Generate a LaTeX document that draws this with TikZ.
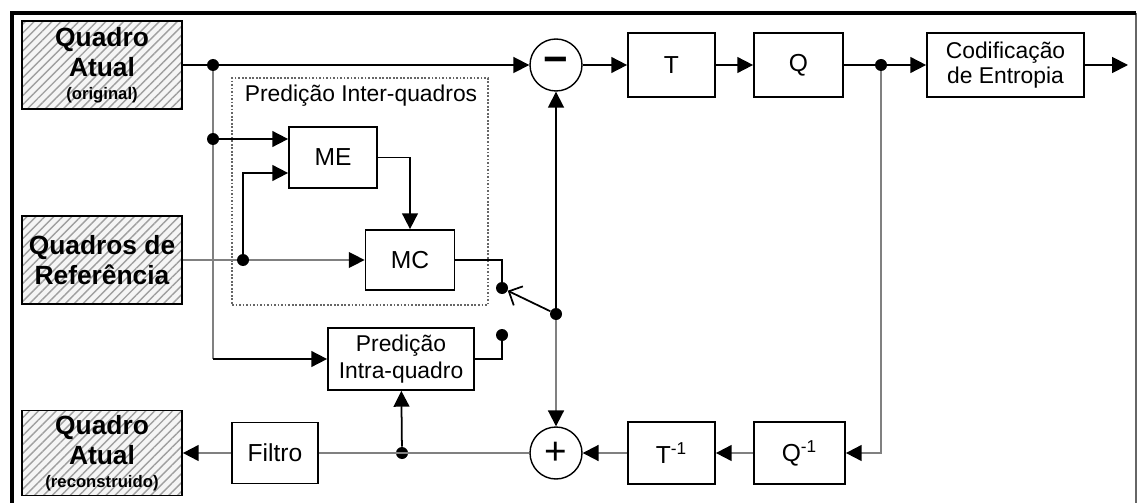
\documentclass[tikz,border=0pt]{standalone}
\usepackage{fontspec}
\setmainfont{Liberation Sans}
\usetikzlibrary{arrows.meta,positioning,patterns.meta}

\begin{document}
\begin{tikzpicture}[
    x=0.02cm, y=-0.02cm,
    font=\fontsize{13}{14}\selectfont,
    box/.style = {rectangle, draw, line width=1pt, minimum width=1.76cm, minimum height=1.24cm, align=center, inner sep=1pt},
    big/.style = {font=\fontsize{14}{15}\selectfont},
    frame/.style = {box, minimum width=3.2cm, minimum height=1.76cm, preaction={fill=gray!8},
        pattern={Lines[angle=45,distance=3.6pt,line width=0.8pt]}, pattern color=gray!75,
        font=\bfseries\fontsize{15}{17}\selectfont},
    sum/.style = {circle, draw, line width=0.8pt, minimum size=1.04cm, inner sep=0pt},
    dot/.style = {circle, fill, inner sep=0pt, minimum size=0.24cm},
    arrow/.style = {-{Triangle[length=9pt,width=9pt]}, line width=1pt},
    feed/.style = {draw=black!50, line width=1.1pt},
    feedarrow/.style = {feed, -{Triangle[length=9pt,width=9pt,color=black]}}
]
\useasboundingbox (0,0) rectangle (1138,503);

% Outer frame
\draw[line width=0.6pt, black!60] (1136,13) -- (1136,510);
\draw[line width=2.4pt] (12,510) -- (12,13) -- (1136,13);

% Input frames
\node[frame] (cur) at (102,65) {Quadro\\Atual\\[-4pt]{\fontsize{9.5}{10}\selectfont(original)}};
\node[frame] (ref) at (102,260) {Quadros de\\Referência};
\node[frame, minimum height=1.7cm] (rec) at (102,453) {Quadro\\Atual\\[-4pt]{\fontsize{9.5}{10}\selectfont(reconstruido)}};

% Forward path
\node[sum] (minus) at (556,65) {\fontsize{24}{24}\selectfont\bfseries −};
\node[box, big, minimum width=1.74cm, minimum height=1.28cm] (T) at (671.5,65) {T};
\node[box, big, minimum width=1.78cm, minimum height=1.28cm] (Q) at (798.5,65) {Q};
\node[box, minimum width=3.14cm, minimum height=1.28cm] (ent) at (1005.5,65) {Codificação\\de Entropia};
\coordinate (out) at (1128,65);

% Inter-frame prediction
\node[draw=black!60, dash pattern=on 1pt off 1pt, line width=0.8pt, minimum width=5.12cm, minimum height=4.54cm] (inter) at (360,191.5) {};
\node (interlbl) at (361,96) {Predição Inter-quadros};
\node[box, big, minimum height=1.22cm] (me) at (333,157.5) {ME};
\node[box, big, minimum width=1.78cm, minimum height=1.2cm] (mc) at (410,260) {MC};

% Intra-frame prediction
\node[box, minimum width=2.92cm, font=\fontsize{13}{15}\selectfont] (intra) at (401,359) {Predição\\Intra-quadro};

% Reconstruction path
\node[sum] (plus) at (556,453) {\fontsize{22}{22}\selectfont +};
\node[box, big, minimum width=1.72cm, minimum height=1.22cm] (filt) at (275,453) {Filtro};
\node[box, big, minimum width=1.74cm] (Tinv) at (671.5,453) {T\textsuperscript{-1}};
\node[box, big, minimum width=1.82cm] (Qinv) at (799.5,453) {Q\textsuperscript{-1}};

% Junctions
\node[dot] (d1) at (213,65) {};
\node[dot] (d2) at (213,139) {};
\node[dot] (d3) at (243,260) {};
\node[dot] (d4) at (881,65) {};
\node[dot] (d5) at (402,453) {};
\node[dot] (sw1) at (502,288) {};
\node[dot] (sw2) at (502,335) {};
\node[dot] (swc) at (556,314) {};
\coordinate (c1) at (213,359);

% Forward arrows
\draw[line width=1pt] (cur) -- (d1);
\draw[arrow] (d1) -- (minus);
\draw[arrow] (minus) -- (T);
\draw[arrow] (T) -- (Q);
\draw[line width=1pt] (Q) -- (d4);
\draw[arrow] (d4) -- (ent);
\draw[arrow] (ent) -- (out);

% Prediction inputs
\draw[feed] (d1) -- (d2) -- (c1);
\draw[arrow] (c1) -- (intra);
\draw[arrow] (d2) -- (d2 -| me.west);
\draw[feed, line width=0.8pt] (ref) -- (d3);
\draw[feedarrow, line width=0.8pt] (d3) -- (mc);
\draw[arrow] (d3) |- ([yshift=-0.31cm]me.west);
\draw[arrow] (me) -| (mc);

% Mode switch
\draw[line width=1pt] (mc) -| (sw1);
\draw[line width=1pt] (intra) -| (sw2);
\draw[-{Straight Barb[length=6pt,width=12pt]}, line width=1pt] (swc) -- (sw1);
\draw[arrow] (swc) -- (minus);
\draw[feedarrow] (swc) -- (plus);

% Feedback loop
\draw[feedarrow] (d4) |- (Qinv);
\draw[feedarrow] (Qinv) -- (Tinv);
\draw[feedarrow] (Tinv) -- (plus);
\draw[feed] (plus) -- (filt);
\draw[arrow] (d5) -- (intra);
\draw[feedarrow] (filt) -- (rec);

\end{tikzpicture}
\end{document}
